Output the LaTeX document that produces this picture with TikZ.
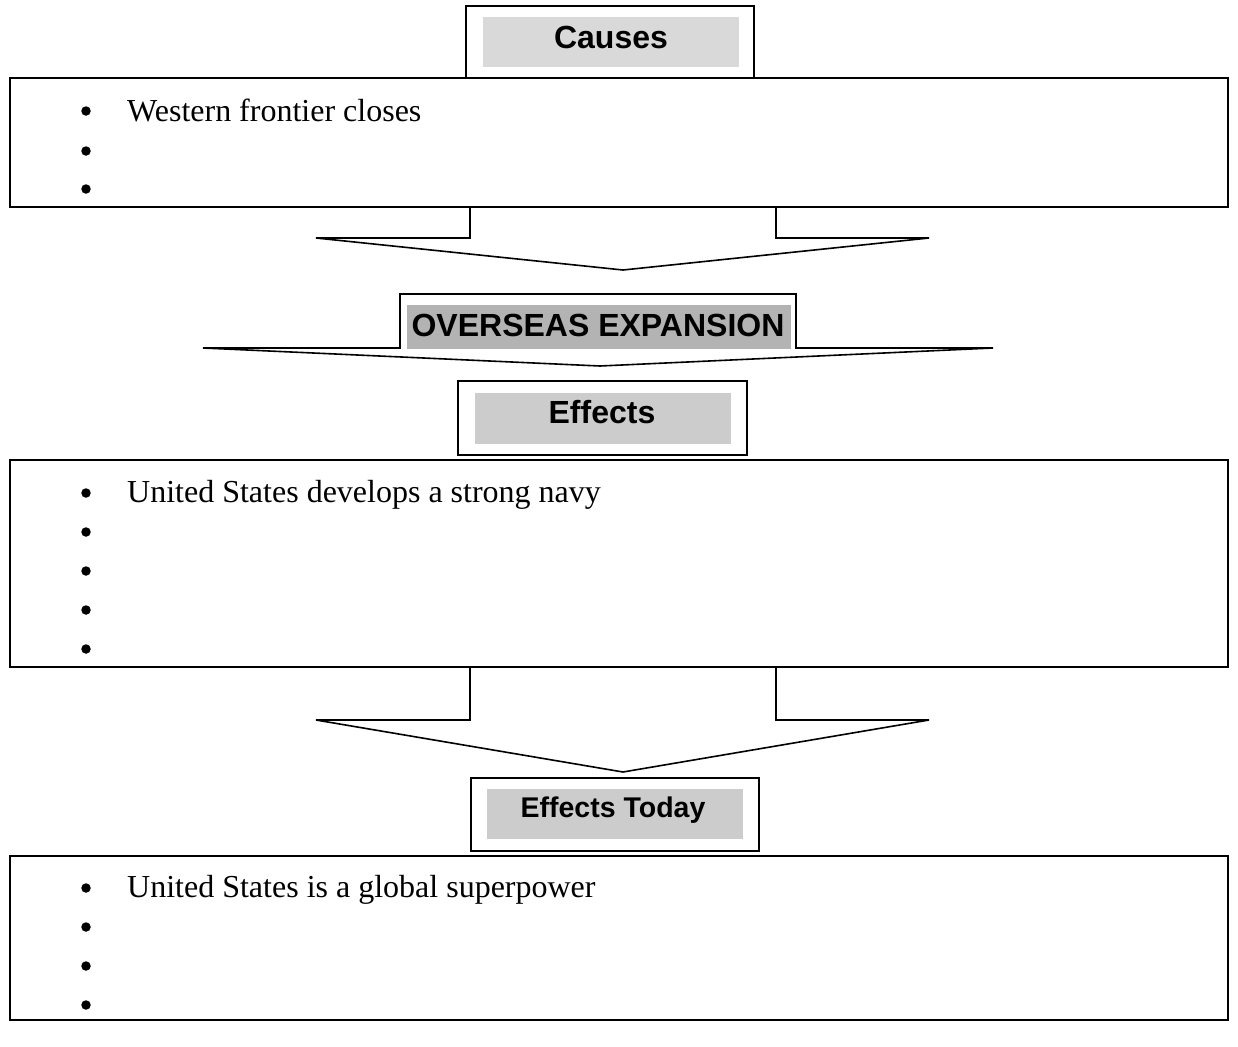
\documentclass[tikz,border=0pt]{standalone}
\usepackage{fontspec}
\setmainfont{Liberation Serif}
\newfontfamily\hdrfont{Liberation Sans}
\definecolor{gA}{HTML}{D9D9D9}
\definecolor{gB}{HTML}{CCCCCC}
\definecolor{gC}{HTML}{B3B3B3}
\begin{document}
\begin{tikzpicture}[x=1bp,y=-1bp,
  frame/.style={draw,line width=1.6bp,line join=miter},
  listbox/.style={draw,line width=1.6bp,inner sep=0,minimum width=1218bp},
  hdrbox/.style={draw,line width=1.6bp,fill=white,inner sep=0},
  hdrfill/.style={inner sep=0},
  hdrtext/.style={inner sep=0,anchor=base,font=\hdrfont\bfseries\fontsize{32bp}{36bp}\selectfont},
  itemtext/.style={inner sep=0,anchor=base west,font=\fontsize{32bp}{38bp}\selectfont},
  bul/.style={circle,fill=black,inner sep=0,minimum size=9.5bp}]
\useasboundingbox (0,0) rectangle (1238,1047);

% ---------- Causes ----------
\node[listbox,minimum height=129bp] (causesbox) at (619,142.5) {};
\node[hdrbox,minimum width=288bp,minimum height=72bp] (causesout) at (610,42) {};
\node[hdrfill,fill=gA,minimum width=256bp,minimum height=50bp] (causesin) at (611,42) {};
\node[hdrtext] (causes) at (611,48) {Causes};
\node[bul] (cb1) at (86,111) {};
\node[bul] (cb2) at (86,151) {};
\node[bul] (cb3) at (86,189) {};
\node[itemtext] (ct1) at (127,121) {Western frontier closes};

% ---------- arrow 1 ----------
\coordinate (a1l) at (470,207);
\coordinate (a1r) at (776,207);
\coordinate (a1tip) at (623,270);
\draw[frame] (a1l) -- (470,238) -- (316,238) -- (a1tip) -- (929,238) -- (776,238) -- (a1r);

% ---------- Overseas expansion ----------
\draw[frame,fill=white] (203,348) -- (400,348) -- (400,294) -- (796,294) -- (796,348) -- (993,348) -- (600,366) -- cycle;
\node[hdrfill,fill=gC,minimum width=384bp,minimum height=44bp] (overin) at (599,327) {};
\node[hdrtext] (over) at (598,336) {OVERSEAS EXPANSION};

% ---------- Effects ----------
\node[hdrbox,minimum width=289bp,minimum height=74bp] (effout) at (602.5,418) {};
\node[hdrfill,fill=gB,minimum width=256bp,minimum height=51bp] (effin) at (603,418.5) {};
\node[hdrtext] (eff) at (602,423) {Effects};

\node[listbox,minimum height=207bp] (effbox) at (619,563.5) {};
\node[bul] (eb1) at (86,493) {};
\node[bul] (eb2) at (86,532) {};
\node[bul] (eb3) at (86,571) {};
\node[bul] (eb4) at (86,610) {};
\node[bul] (eb5) at (86,649) {};
\node[itemtext] (et1) at (127,502) {United States develops a strong navy};

% ---------- arrow 2 ----------
\coordinate (a2l) at (470,667);
\coordinate (a2r) at (776,667);
\coordinate (a2tip) at (623,772);
\draw[frame] (a2l) -- (470,720) -- (316,720) -- (a2tip) -- (929,720) -- (776,720) -- (a2r);

% ---------- Effects today ----------
\node[hdrbox,minimum width=288bp,minimum height=73bp] (todout) at (615,814.5) {};
\node[hdrfill,fill=gB,minimum width=256bp,minimum height=50bp] (todin) at (615,814) {};
\node[hdrtext,font=\hdrfont\bfseries\fontsize{28.5bp}{33bp}\selectfont] (tod) at (613,817) {Effects Today};

\node[listbox,minimum height=164bp] (todbox) at (619,938) {};
\node[bul] (tb1) at (86,888) {};
\node[bul] (tb2) at (86,927) {};
\node[bul] (tb3) at (86,966) {};
\node[bul] (tb4) at (86,1005) {};
\node[itemtext] (tt1) at (127,897) {United States is a global superpower};
\end{tikzpicture}
\end{document}
